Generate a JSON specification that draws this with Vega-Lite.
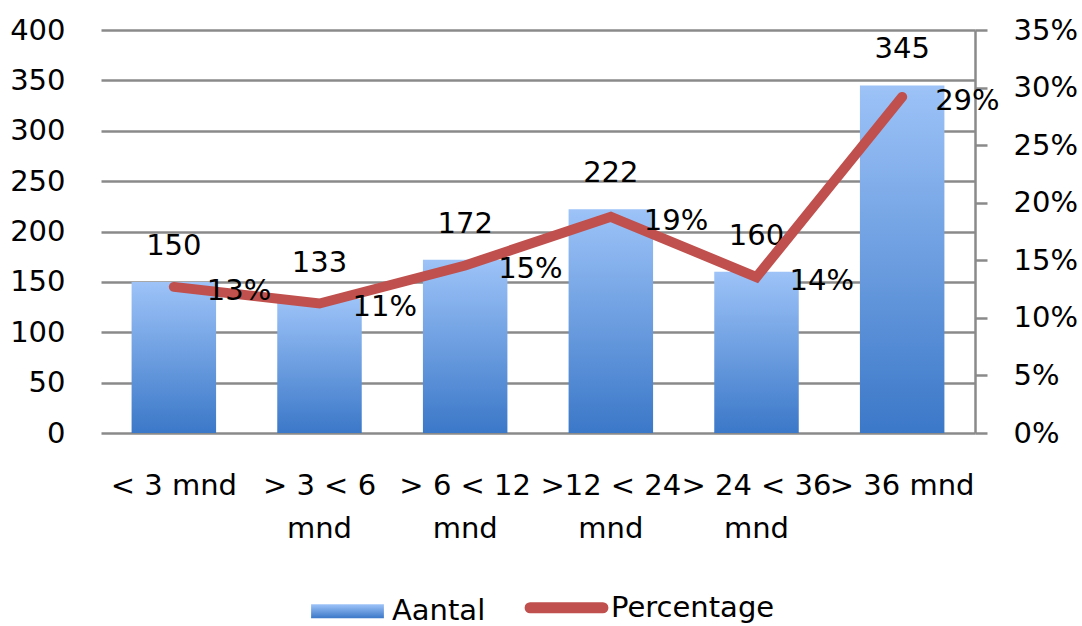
{
  "$schema": "https://vega.github.io/schema/vega-lite/v6.json",
  "autosize": {"type": "none"},
  "padding": {"left": 101, "top": 30, "right": 107, "bottom": 193},
  "width": 874,
  "height": 403,
  "config": {
    "view": {"stroke": null},
    "font": "DejaVu Sans",
    "axis": {"labelFont": "DejaVu Sans", "labelFontSize": 29, "labelColor": "#000000", "title": null}
  },
  "data": {
    "values": [
      {"categorie": "< 3 mnd", "aantal": 150, "percentage": 0.1269},
      {"categorie": "> 3 < 6 mnd", "aantal": 133, "percentage": 0.1125},
      {"categorie": "> 6 < 12 mnd", "aantal": 172, "percentage": 0.1455},
      {"categorie": ">12 < 24 mnd", "aantal": 222, "percentage": 0.1878},
      {"categorie": "> 24 < 36 mnd", "aantal": 160, "percentage": 0.1354},
      {"categorie": "> 36 mnd", "aantal": 345, "percentage": 0.2919}
    ]
  },
  "encoding": {
    "x": {
      "field": "categorie",
      "type": "nominal",
      "sort": null,
      "scale": {"paddingInner": 0.42, "paddingOuter": 0.21},
      "axis": {
        "labelAngle": 0,
        "domain": false,
        "ticks": false,
        "labelPadding": 38,
        "labelLineHeight": 43,
        "labelBaseline": "top",
        "labelOverlap": false,
        "labelExpr": "datum.value == '< 3 mnd' || datum.value == '> 36 mnd' ? datum.value : [replace(datum.value, ' mnd', ''), 'mnd']"
      }
    }
  },
  "layer": [
    {
      "encoding": {
        "y": {
          "field": "aantal",
          "type": "quantitative",
          "scale": {"domain": [0, 400]},
          "axis": {
            "orient": "left",
            "values": [0, 50, 100, 150, 200, 250, 300, 350, 400],
            "domain": false,
            "ticks": false,
            "labelPadding": 36,
            "grid": true,
            "gridColor": "#8a8a8a",
            "gridWidth": 2.5
          }
        }
      },
      "layer": [
        {
          "mark": {
            "type": "bar",
            "fill": {
              "gradient": "linear",
              "x1": 0, "y1": 0, "x2": 0, "y2": 1,
              "stops": [
                {"offset": 0, "color": "#9DC3F8"},
                {"offset": 1, "color": "#3B78C8"}
              ]
            }
          }
        },
        {
          "mark": {"type": "text", "fontSize": 29, "dy": -27, "baseline": "alphabetic", "color": "#000000"},
          "encoding": {"text": {"field": "aantal", "type": "quantitative"}}
        }
      ]
    },
    {
      "encoding": {
        "y": {
          "field": "percentage",
          "type": "quantitative",
          "scale": {"domain": [0, 0.35]},
          "axis": {
            "orient": "right",
            "values": [0, 0.05, 0.1, 0.15, 0.2, 0.25, 0.3, 0.35],
            "format": ".0%",
            "grid": false,
            "domain": true,
            "domainColor": "#8a8a8a",
            "domainWidth": 2.5,
            "ticks": true,
            "tickColor": "#8a8a8a",
            "tickWidth": 2.5,
            "tickSize": 12,
            "labelPadding": 26
          }
        }
      },
      "layer": [
        {
          "mark": {"type": "line", "strokeWidth": 10, "strokeCap": "round", "strokeJoin": "miter"},
          "encoding": {
            "color": {
              "datum": "Percentage",
              "type": "nominal",
              "scale": {"domain": ["Aantal", "Percentage"], "range": ["#5B95DD", "#C0504D"]},
              "legend": {
                "orient": "none",
                "direction": "horizontal",
                "legendX": 211,
                "legendY": 563,
                "title": null,
                "labelFont": "DejaVu Sans",
                "labelFontSize": 29,
                "labelColor": "#000000",
                "labelOffset": 30,
                "symbolOffset": 21,
                "labelLimit": 400,
                "columnPadding": 22,
                "symbolSize": 5300,
                "symbolStrokeWidth": 11,
                "encode": {
                  "symbols": {
                    "update": {
                      "shape": {"signal": "datum.value === 'Aantal' ? 'M-1,-0.19H1V0.19H-1Z' : 'stroke'"},
                      "size": {"value": 5300},
                      "fill": {"signal": "datum.value === 'Aantal' ? {gradient: 'linear', x1: 0, y1: 0, x2: 0, y2: 1, stops: [{offset: 0, color: '#9DC3F8'}, {offset: 1, color: '#3B78C8'}]} : 'transparent'"},
                      "stroke": {"signal": "datum.value === 'Aantal' ? 'transparent' : '#C0504D'"},
                      "strokeWidth": {"signal": "datum.value === 'Aantal' ? 0 : 11"},
                      "strokeCap": {"value": "round"},
                      "opacity": {"value": 1}
                    }
                  }
                }
              }
            }
          }
        },
        {
          "mark": {"type": "text", "fontSize": 29, "align": "left", "baseline": "middle", "dx": 33, "dy": 4, "color": "#000000"},
          "encoding": {"text": {"field": "percentage", "type": "quantitative", "format": ".0%"}}
        }
      ]
    }
  ],
  "resolve": {"scale": {"y": "independent"}}
}
